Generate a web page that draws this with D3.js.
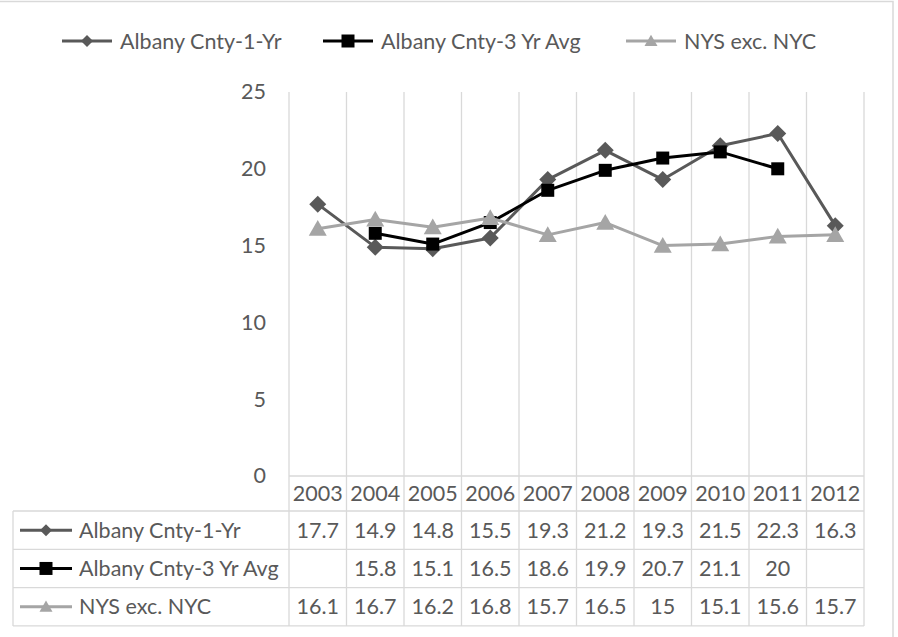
<!DOCTYPE html>
<html>
<head>
<meta charset="utf-8">
<script src="https://cdn.jsdelivr.net/npm/d3@7"></script>
<style>
  body { margin: 0; background: #fff; }
  text { font-family: Lato, "Open Sans", sans-serif; fill: #595959; }
</style>
</head>
<body>
<svg id="chart" width="898" height="637"></svg>
<script>
// data
const years = ["2003", "2004", "2005", "2006", "2007", "2008", "2009", "2010", "2011", "2012"]
const albany1 = [17.7, 14.9, 14.8, 15.5, 19.3, 21.2, 19.3, 21.5, 22.3, 16.3]
const albany3 = [null, 15.8, 15.1, 16.5, 18.6, 19.9, 20.7, 21.1, 20, null]
const nys = [16.1, 16.7, 16.2, 16.8, 15.7, 16.5, 15, 15.1, 15.6, 15.7]
const yTicks = [0, 5, 10, 15, 20, 25]

const seriesNames = ["Albany Cnty-1-Yr", "Albany Cnty-3 Yr Avg", "NYS exc. NYC"]
const seriesValues = [albany1, albany3, nys]

const colors = ["#595959", "#000000", "#a5a5a5"]
const shapes = ["diamond", "square", "triangle"]
const grid = "#d9d9d9"

const width = 898, height = 637
const plot = {left: 289, right: 864, top: 92, bottom: 476}
const tableLeft = 13
const catRowH = 35
const rowH = 38.3
const fontSize = 21.5

const svg = d3.select("#chart")

// marker path, r = half size
function marker(shape, r) {
  if (shape == "diamond") return `M0,${-r}L${r},0L0,${r}L${-r},0Z`
  if (shape == "square") return `M${-r},${-r}h${2*r}v${2*r}h${-2*r}Z`
  const h = r * 1.75
  return `M0,${-h*0.55}L${r},${h*0.45}L${-r},${h*0.45}Z`
}
const markR = [8.5, 6.5, 9]
const keyR = [6, 6.5, 6.5]

// chart frame
svg.append("path")
  .attr("d", `M-2,1.5H893V${height + 2}`)
  .attr("fill", "none")
  .attr("stroke", grid)
  .attr("stroke-width", 1.5)

const x = d3.scaleBand().domain(years).range([plot.left, plot.right])
const y = d3.scaleLinear().domain([0, 25]).range([plot.bottom, plot.top])

// vertical gridlines, running down through the data table
const tableBottom = plot.bottom + catRowH + rowH * 3
const edges = years.map(d => x(d)).concat([plot.right])
svg.append("g")
  .selectAll("line")
  .data(edges)
  .join("line")
  .attr("x1", d => d).attr("x2", d => d)
  .attr("y1", plot.top).attr("y2", tableBottom)
  .attr("stroke", grid)
  .attr("stroke-width", 1.3)

// horizontal table lines
const hLines = [plot.bottom, plot.bottom + catRowH]
for (let i = 1; i <= 3; i++) hLines.push(plot.bottom + catRowH + rowH * i)
svg.append("g")
  .selectAll("line")
  .data(hLines)
  .join("line")
  .attr("x1", (d, i) => i == 0 ? plot.left : tableLeft)
  .attr("x2", plot.right)
  .attr("y1", d => d).attr("y2", d => d)
  .attr("stroke", grid)
  .attr("stroke-width", 1.3)
svg.append("line")
  .attr("x1", tableLeft).attr("x2", tableLeft)
  .attr("y1", plot.bottom + catRowH).attr("y2", tableBottom)
  .attr("stroke", grid)
  .attr("stroke-width", 1.3)

// y axis labels
svg.append("g")
  .attr("transform", `translate(${plot.left},0)`)
  .call(d3.axisLeft(y).tickValues(yTicks).tickSize(0).tickPadding(23))
  .call(g => g.select(".domain").remove())
  .call(g => g.selectAll("text")
    .attr("font-size", fontSize)
    .attr("font-family", null)
    .attr("fill", null))

// lines and markers
const line = d3.line()
  .defined(d => d != null)
  .x((d, i) => x(years[i]) + x.bandwidth() / 2)
  .y(d => y(d))

seriesValues.forEach((vals, s) => {
  svg.append("path")
    .datum(vals)
    .attr("fill", "none")
    .attr("stroke", colors[s])
    .attr("stroke-width", 3)
    .attr("stroke-linejoin", "round")
    .attr("d", line)
  svg.append("g")
    .selectAll("path")
    .data(vals.map((v, i) => ({v, i})).filter(d => d.v != null))
    .join("path")
    .attr("transform", d => `translate(${x(years[d.i]) + x.bandwidth() / 2},${y(d.v)})`)
    .attr("d", marker(shapes[s], markR[s]))
    .attr("fill", colors[s])
})

// table: category row
svg.append("g")
  .selectAll("text")
  .data(years)
  .join("text")
  .attr("x", d => x(d) + x.bandwidth() / 2)
  .attr("y", plot.bottom + catRowH / 2)
  .attr("dy", "0.35em")
  .attr("text-anchor", "middle")
  .attr("font-size", fontSize)
  .text(d => d)

// table: series rows
seriesValues.forEach((vals, s) => {
  const cy = plot.bottom + catRowH + rowH * s + rowH / 2
  const row = svg.append("g")
  row.append("line")
    .attr("x1", 20).attr("x2", 72)
    .attr("y1", cy).attr("y2", cy)
    .attr("stroke", colors[s]).attr("stroke-width", 3)
  row.append("path")
    .attr("transform", `translate(46,${cy})`)
    .attr("d", marker(shapes[s], keyR[s]))
    .attr("fill", colors[s])
  row.append("text")
    .attr("x", 79).attr("y", cy).attr("dy", "0.35em")
    .attr("font-size", fontSize)
    .text(seriesNames[s])
  row.selectAll("text.v")
    .data(vals.map((v, i) => ({v, i})).filter(d => d.v != null))
    .join("text")
    .attr("class", "v")
    .attr("x", d => x(years[d.i]) + x.bandwidth() / 2)
    .attr("y", cy).attr("dy", "0.35em")
    .attr("text-anchor", "middle")
    .attr("font-size", fontSize)
    .text(d => d.v)
})

// legend at top
const legendX = [62, 323, 626]
const legend = svg.append("g")
seriesNames.forEach((name, s) => {
  const lx = legendX[s], ly = 41
  legend.append("line")
    .attr("x1", lx).attr("x2", lx + 50)
    .attr("y1", ly).attr("y2", ly)
    .attr("stroke", colors[s]).attr("stroke-width", 3)
  legend.append("path")
    .attr("transform", `translate(${lx + 25},${ly})`)
    .attr("d", marker(shapes[s], keyR[s]))
    .attr("fill", colors[s])
  legend.append("text")
    .attr("x", lx + 58).attr("y", ly).attr("dy", "0.35em")
    .attr("font-size", fontSize)
    .text(name)
})
</script>
</body>
</html>
